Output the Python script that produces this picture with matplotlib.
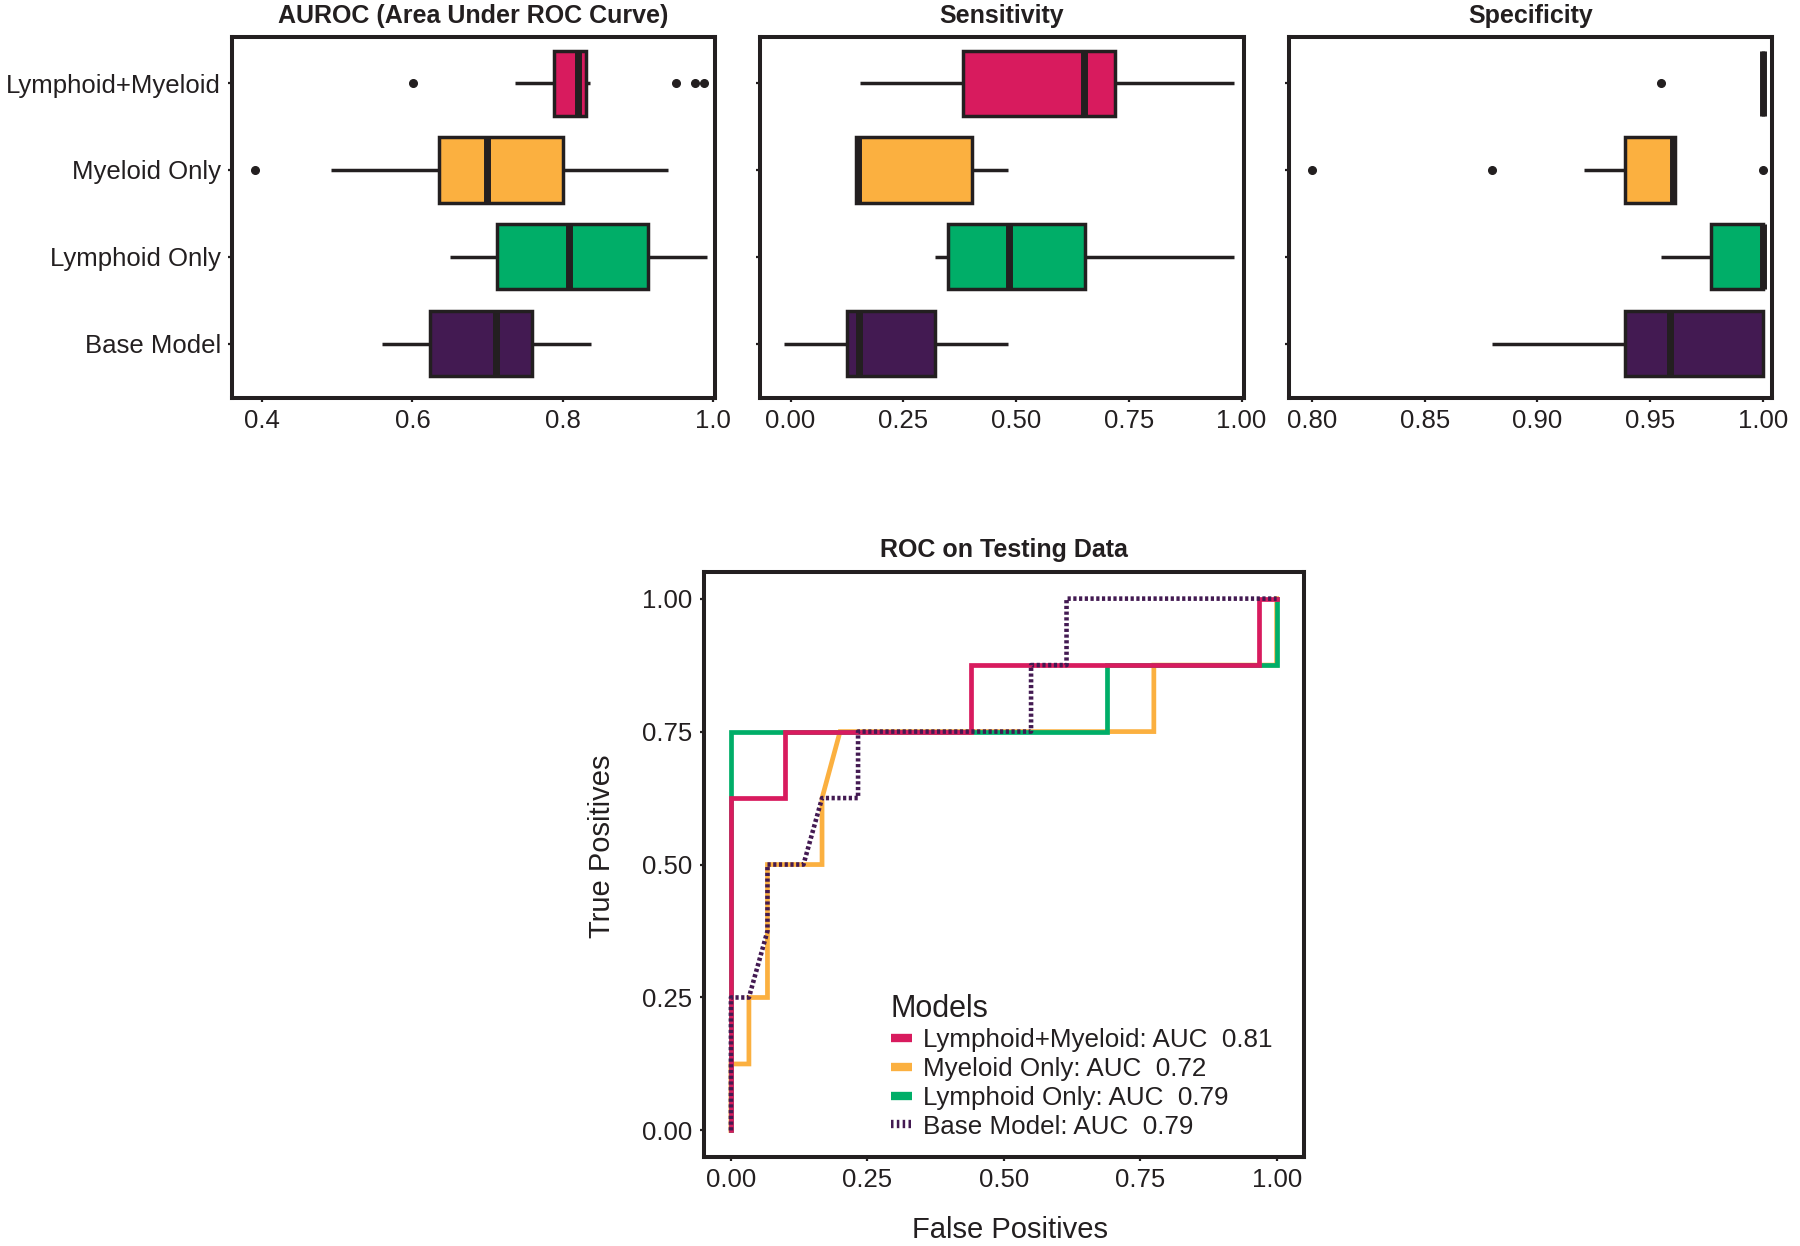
import matplotlib
matplotlib.use('Agg')
import matplotlib.pyplot as plt
from matplotlib.lines import Line2D

plt.rcParams['font.family'] = ['Liberation Sans', 'DejaVu Sans']
DARK = '#231F20'
plt.rcParams['text.color'] = DARK

# ---------------- data ----------------
models = ['Lymphoid+Myeloid', 'Myeloid Only', 'Lymphoid Only', 'Base Model']
colors = ['#D81B5E', '#FBB040', '#00AE68', '#431A52']
positions = [3, 2, 1, 0]

# AUROC box stats
auroc_whislo = [0.737, 0.491, 0.650, 0.560]
auroc_q1 = [0.788, 0.635, 0.713, 0.623]
auroc_med = [0.821, 0.699, 0.809, 0.711]
auroc_q3 = [0.831, 0.800, 0.914, 0.759]
auroc_whishi = [0.836, 0.941, 0.992, 0.838]
auroc_fliers = [[0.601, 0.951, 0.977, 0.988], [0.390], [], []]

# Sensitivity box stats
sens_whislo = [0.153, 0.146, 0.320, -0.014]
sens_q1 = [0.383, 0.146, 0.350, 0.125]
sens_med = [0.651, 0.150, 0.485, 0.151]
sens_q3 = [0.720, 0.403, 0.653, 0.320]
sens_whishi = [0.983, 0.483, 0.983, 0.483]
sens_fliers = [[], [], [], []]

# Specificity box stats
spec_whislo = [1.000, 0.9205, 0.9548, 0.880]
spec_q1 = [1.000, 0.939, 0.977, 0.939]
spec_med = [1.000, 0.960, 1.000, 0.9587]
spec_q3 = [1.000, 0.961, 1.000, 1.000]
spec_whishi = [1.000, 0.961, 1.000, 1.000]
spec_fliers = [[0.955], [0.800, 0.880, 1.000], [], []]

auroc_ticks = [0.4, 0.6, 0.8, 1.0]
auroc_ticklabels = ['0.4', '0.6', '0.8', '1.0']
sens_ticks = [0.0, 0.25, 0.5, 0.75, 1.0]
sens_ticklabels = ['0.00', '0.25', '0.50', '0.75', '1.00']
spec_ticks = [0.80, 0.85, 0.90, 0.95, 1.00]
spec_ticklabels = ['0.80', '0.85', '0.90', '0.95', '1.00']

# ROC curves
fpr_lm = [0, 0, 0.1, 0.1, 0.44, 0.44, 0.967, 0.967, 1.0]
tpr_lm = [0, 0.625, 0.625, 0.75, 0.75, 0.875, 0.875, 1.0, 1.0]
fpr_my = [0, 0, 0.033, 0.033, 0.067, 0.067, 0.167, 0.167, 0.2, 0.775, 0.775, 1.0, 1.0]
tpr_my = [0, 0.125, 0.125, 0.25, 0.25, 0.5, 0.5, 0.625, 0.75, 0.75, 0.875, 0.875, 1.0]
fpr_ly = [0, 0, 0.69, 0.69, 1.0, 1.0]
tpr_ly = [0, 0.75, 0.75, 0.875, 0.875, 1.0]
fpr_base = [0, 0, 0.033, 0.067, 0.067, 0.133, 0.167, 0.233, 0.233, 0.55, 0.55, 0.615, 0.615, 1.0]
tpr_base = [0, 0.25, 0.25, 0.375, 0.5, 0.5, 0.625, 0.625, 0.75, 0.75, 0.875, 0.875, 1.0, 1.0]
auc_values = ['0.81', '0.72', '0.79', '0.79']
roc_ticks = [0.0, 0.25, 0.5, 0.75, 1.0]
roc_ticklabels = ['0.00', '0.25', '0.50', '0.75', '1.00']

# ---------------- figure ----------------
fig = plt.figure(figsize=(18, 12.46), dpi=100)

SPINE_LW = 2.9
TICK_FS = 18.5


def style_axes(ax):
    for s in ax.spines.values():
        s.set_linewidth(SPINE_LW)
        s.set_color(DARK)
    ax.tick_params(direction='out', length=3, width=1.6, color=DARK,
                   labelsize=TICK_FS, labelcolor=DARK, pad=5)


def box_panel(ax, whislo, q1, med, q3, whishi, fliers, xlim, ticks, ticklabels, title, show_labels):
    stats = []
    for i in range(len(models)):
        stats.append(dict(whislo=whislo[i], q1=q1[i], med=med[i], q3=q3[i],
                          whishi=whishi[i], fliers=fliers[i], label=models[i]))
    res = ax.bxp(stats, positions=positions, widths=0.75, orientation='horizontal',
                 patch_artist=True, showcaps=False,
                 boxprops=dict(linewidth=2.5, edgecolor=DARK),
                 medianprops=dict(color=DARK, linewidth=5.0, solid_capstyle='butt'),
                 whiskerprops=dict(color=DARK, linewidth=2.5, solid_capstyle='butt'),
                 flierprops=dict(marker='o', markerfacecolor=DARK, markeredgecolor=DARK,
                                 markersize=5.5, linestyle='none'))
    for patch, c in zip(res['boxes'], colors):
        patch.set_facecolor(c)
    ax.set_xlim(*xlim)
    ax.set_ylim(-0.63, 3.535)
    ax.set_xticks(ticks)
    ax.set_xticklabels(ticklabels)
    ax.set_yticks(positions)
    if show_labels:
        ax.set_yticklabels(models)
    else:
        ax.set_yticklabels([''] * len(models))
    ax.set_title(title, fontsize=18, fontweight='bold', pad=10, color=DARK)
    style_axes(ax)


ax1 = fig.add_axes([0.1289, 0.6803, 0.2683, 0.2903])
ax2 = fig.add_axes([0.4222, 0.6803, 0.2689, 0.2903])
ax3 = fig.add_axes([0.7161, 0.6803, 0.2683, 0.2903])

box_panel(ax1, auroc_whislo, auroc_q1, auroc_med, auroc_q3, auroc_whishi, auroc_fliers,
          (0.3596, 1.003), auroc_ticks, auroc_ticklabels, 'AUROC (Area Under ROC Curve)', True)
box_panel(ax2, sens_whislo, sens_q1, sens_med, sens_q3, sens_whishi, sens_fliers,
          (-0.068, 1.0055), sens_ticks, sens_ticklabels, 'Sensitivity', False)
box_panel(ax3, spec_whislo, spec_q1, spec_med, spec_q3, spec_whishi, spec_fliers,
          (0.7898, 1.0041), spec_ticks, spec_ticklabels, 'Specificity', False)

# ROC panel
ax4 = fig.add_axes([0.3909, 0.0714, 0.3335, 0.4695])
LW = 3.4
ax4.plot(fpr_my, tpr_my, color=colors[1], lw=LW, zorder=2, solid_joinstyle='miter')
ax4.plot(fpr_ly, tpr_ly, color=colors[2], lw=LW, zorder=3, solid_joinstyle='miter')
ax4.plot(fpr_lm, tpr_lm, color=colors[0], lw=LW, zorder=4, solid_joinstyle='miter')
ax4.plot(fpr_base, tpr_base, color=colors[3], lw=3.3, zorder=5,
         linestyle=(0, (0.7, 0.55)), dash_capstyle='butt')
ax4.set_xlim(-0.05, 1.05)
ax4.set_ylim(-0.05, 1.05)
ax4.set_xticks(roc_ticks)
ax4.set_xticklabels(roc_ticklabels)
ax4.set_yticks(roc_ticks)
ax4.set_yticklabels(roc_ticklabels)
ax4.set_title('ROC on Testing Data', fontsize=18, fontweight='bold', pad=11, color=DARK)
ax4.set_xlabel('False Positives', fontsize=21, labelpad=17, color=DARK)
ax4.set_ylabel('True Positives', fontsize=21, labelpad=19, color=DARK)
ax4.xaxis.label.set_x(0.51)
ax4.yaxis.label.set_y(0.531)
style_axes(ax4)

handles = []
for i, m in enumerate(models):
    if i == 3:
        h = Line2D([], [], color=colors[i], lw=6, linestyle=(0, (0.3, 0.4)), dash_capstyle='butt')
    else:
        h = Line2D([], [], color=colors[i], lw=6, solid_capstyle='butt')
    handles.append(h)
labels = [f'{m}: AUC  {a}' for m, a in zip(models, auc_values)]
leg = ax4.legend(handles, labels, title='Models', loc='upper left',
                 bbox_to_anchor=(0.312, 0.279), frameon=False, fontsize=18.7,
                 title_fontsize=22, handlelength=0.8, handletextpad=0.45,
                 labelspacing=0.18, borderpad=0, borderaxespad=0, alignment='left')
for t in leg.get_texts():
    t.set_color(DARK)

fig.savefig('out.png', dpi=100)
